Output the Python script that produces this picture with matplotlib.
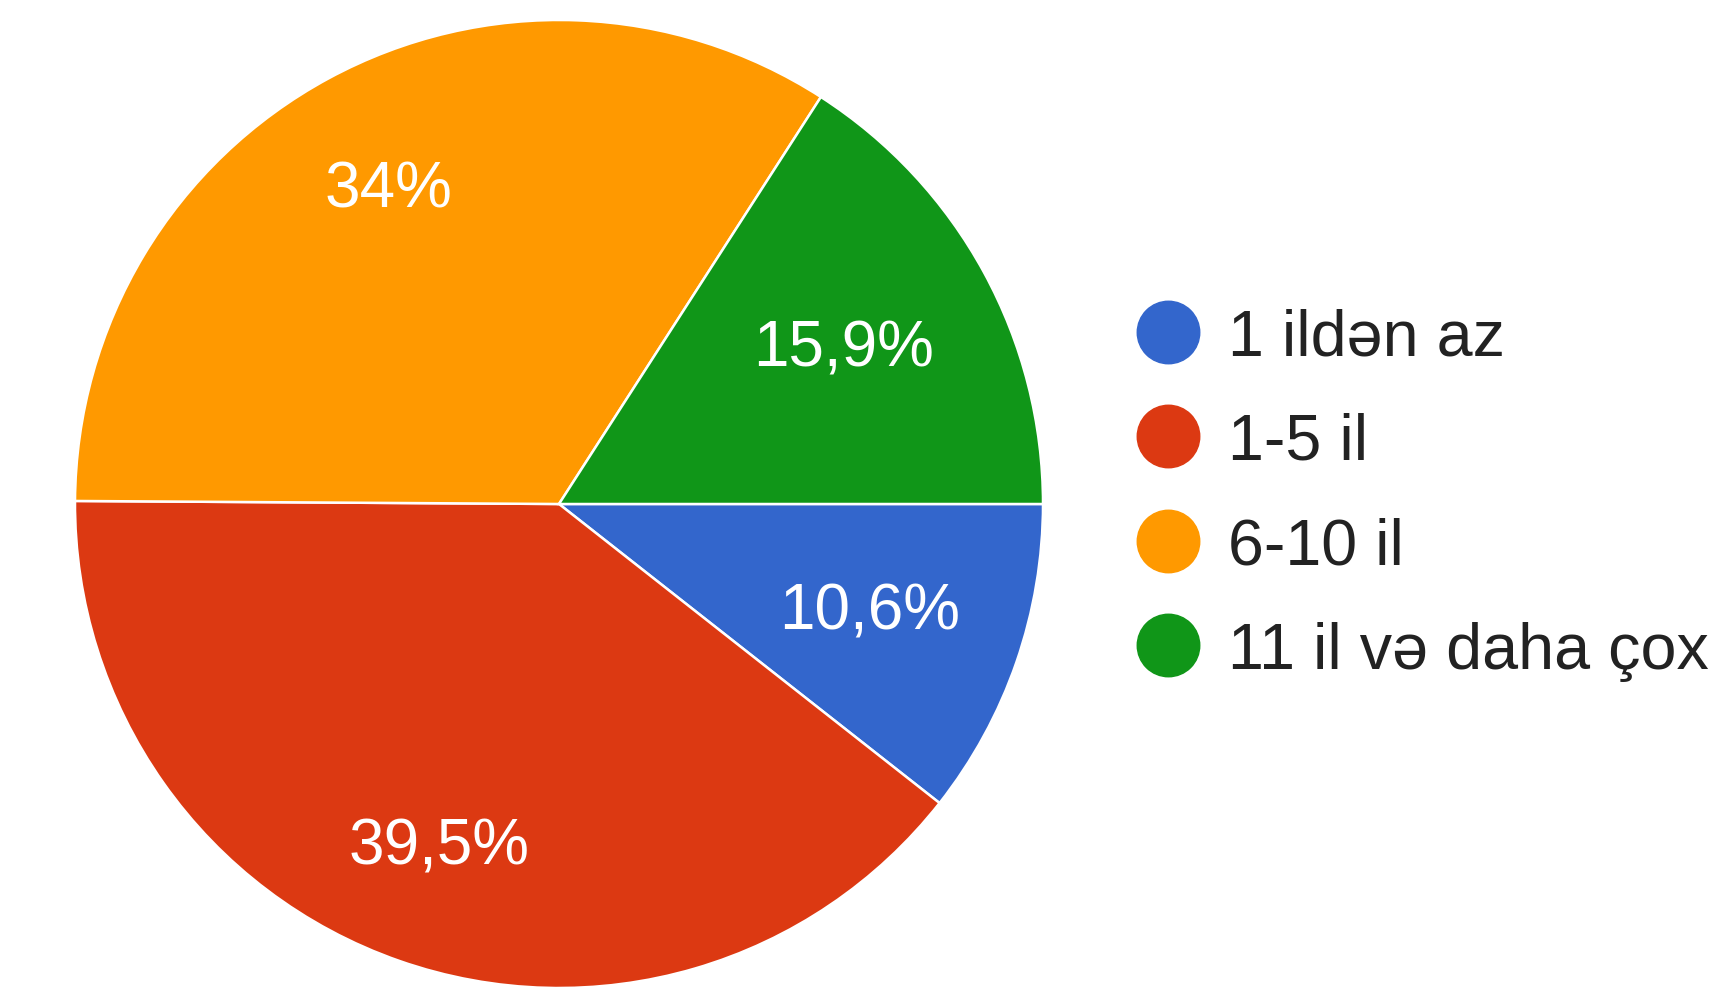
import matplotlib
matplotlib.use("Agg")
import matplotlib.pyplot as plt
from matplotlib.lines import Line2D
import numpy as np

categories = ["1 ildən az", "1-5 il", "6-10 il", "11 il və daha çox"]
values = [10.6, 39.5, 34.0, 15.9]
labels = ["10,6%", "39,5%", "34%", "15,9%"]
colors = ["#3366CC", "#DC3912", "#FF9900", "#109618"]
label_dist = [0.68, 0.75, 0.74, 0.67]

plt.rcParams['font.family'] = ['Liberation Sans', 'DejaVu Sans']

fig = plt.figure(figsize=(17.25, 9.95), dpi=100)
fig.patch.set_facecolor("white")
W, H = 1725, 995
cx, cy, r = 559, 505, 484
ax = fig.add_axes([(cx - r) / W, (H - cy - r) / H, 2 * r / W, 2 * r / H])
wedges, _ = ax.pie(values, colors=colors, startangle=0, counterclock=False,
                   radius=1.0, wedgeprops=dict(edgecolor="white", linewidth=1.8))
for w, lab, d in zip(wedges, labels, label_dist):
    mid = np.deg2rad((w.theta1 + w.theta2) / 2)
    ax.text(d * np.cos(mid), d * np.sin(mid), lab, ha="center", va="center",
            fontsize=46, color="white")
ax.set_xlim(-1, 1)
ax.set_ylim(-1, 1)
ax.set_aspect("equal")
ax.axis("off")

handles = [Line2D([0], [0], marker="o", linestyle="none", markersize=45,
                  markerfacecolor=c, markeredgecolor=c) for c in colors]
leg = fig.legend(handles, categories, loc="center left",
                 bbox_to_anchor=(1136 / W, 1 - 495 / H), frameon=False,
                 fontsize=46.5, labelspacing=0.69, handletextpad=0.43,
                 handlelength=1.0, borderpad=0, borderaxespad=0)
for t in leg.get_texts():
    t.set_color("#222222")

fig.savefig("out.png", dpi=100, facecolor="white")
